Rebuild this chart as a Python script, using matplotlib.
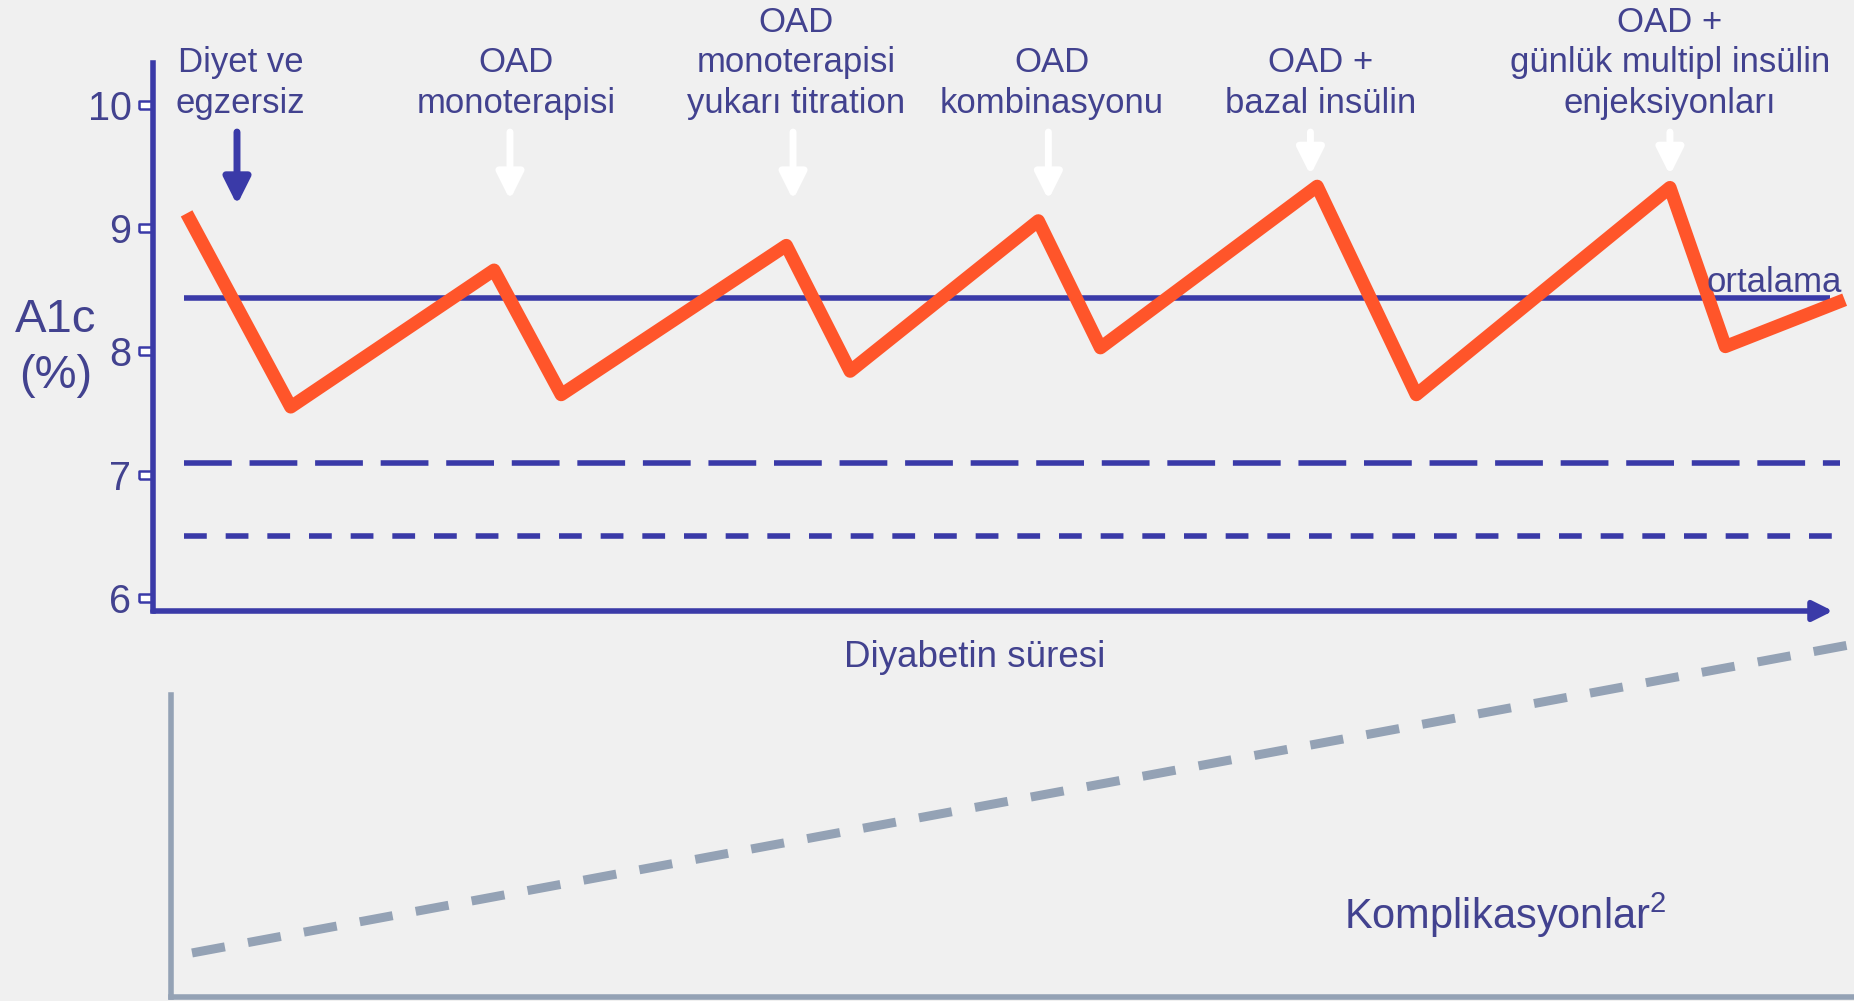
import matplotlib
matplotlib.use('Agg')
import matplotlib.pyplot as plt
from matplotlib.transforms import blended_transform_factory

plt.rcParams['font.family'] = ['Liberation Sans', 'DejaVu Sans']
plt.rcParams['mathtext.fontset'] = 'custom'
plt.rcParams['mathtext.rm'] = 'Liberation Sans'
plt.rcParams['mathtext.it'] = 'Liberation Sans'

# Colours.
BG = '#f0f0f0'
BLUE = '#3a3aa8'
TEXT = '#42428f'
ORANGE = '#ff552a'
GREY = '#94a2b5'

# A1c curve (x = time in arbitrary units, 0..100 along the arrow).
a1c_x = [2.0, 8.2, 20.3, 24.3, 37.7, 41.5, 52.7, 56.4, 69.3, 75.2, 90.3, 93.6, 100.7]
a1c_y = [9.12, 7.55, 8.66, 7.65, 8.86, 7.84, 9.06, 8.03, 9.34, 7.65, 9.33, 8.04, 8.42]

# Reference lines.
mean_level = 8.43
target_7 = 7.095
target_65 = 6.50
line_start = 1.85
mean_end = 99.8
dash_end = 100.4

yticks = [6, 7, 8, 9, 10]

# Therapy steps (labels above the curve).
step_labels = ['Diyet ve\negzersiz', 'OAD\nmonoterapisi',
               'OAD\nmonoterapisi\nyukarı titration', 'OAD\nkombinasyonu',
               'OAD +\nbazal insülin',
               'OAD +\ngünlük multipl insülin\nenjeksiyonları']
step_label_x = [5.2, 21.6, 38.3, 53.5, 69.5, 90.3]
step_arrow_x = [5.0, 21.25, 38.1, 53.3, 68.9, 90.3]
step_arrow_tip = [9.19, 9.23, 9.23, 9.23, 9.43, 9.43]
arrow_top = 9.78
label_base = 9.88

# Complications (bottom panel).
comp_x = [1.25, 100]
comp_y = [0.146, 1.17]

W, H = 1854, 1001
fig = plt.figure(figsize=(W / 100, H / 100), dpi=100, facecolor=BG)

# Main A1c axes.
ax = fig.add_axes([153 / W, (H - 611) / H, (1848 - 153) / W, 548 / H])
ax.set_facecolor('none')
ax.set_xlim(0, 100.9)
ax.set_ylim(5.895, 10.34)
for s in ['top', 'right', 'bottom']:
    ax.spines[s].set_visible(False)
ax.spines['left'].set_color(BLUE)
ax.spines['left'].set_linewidth(4)
ax.set_xticks([])
ax.set_yticks(yticks)
ax.set_yticklabels([str(t) for t in yticks], fontsize=28.5, color=TEXT)
ax.tick_params(axis='y', length=0, pad=15.5)

# Hollow tick marks.
tr = blended_transform_factory(ax.transAxes, ax.transData)
tick_box = [(-1, -0.6), (1, -0.6), (1, 0.6), (-1, 0.6), (-1, -0.6)]
ax.plot([-8 / 1695] * len(yticks), yticks, linestyle='none', marker=tick_box,
        markersize=9, markerfacecolor='white', markeredgecolor=BLUE,
        markeredgewidth=1.8, transform=tr, clip_on=False, zorder=5)

# X axis arrow.
ax.annotate('', xy=(100, 0), xytext=(0, 0), xycoords=('data', 'axes fraction'),
            textcoords=('data', 'axes fraction'),
            arrowprops=dict(arrowstyle='-|>,head_length=0.6,head_width=0.3',
                            mutation_scale=20, lw=4, color=BLUE,
                            shrinkA=0, shrinkB=0), annotation_clip=False)

# Reference lines.
ax.plot([line_start, mean_end], [mean_level] * 2, color=BLUE, lw=4,
        solid_capstyle='butt', zorder=2)
ax.plot([line_start, dash_end], [target_7] * 2, color=BLUE, lw=4,
        dashes=(8.6, 3.2), dash_capstyle='butt', clip_on=False)
ax.plot([line_start, dash_end], [target_65] * 2, color=BLUE, lw=4,
        dashes=(4.1, 3.4), dash_capstyle='butt', clip_on=False)

# A1c curve.
ax.plot(a1c_x, a1c_y, color=ORANGE, lw=9.5, solid_joinstyle='round',
        solid_capstyle='butt', clip_on=False, zorder=3)

ax.text(96.5, 8.48, 'ortalama', fontsize=25, color=TEXT, ha='center',
        va='baseline', zorder=4)

# Therapy step labels and arrows.
for i, (lbl, lx) in enumerate(zip(step_labels, step_label_x)):
    ax.text(lx, label_base, lbl, fontsize=25, color=TEXT, ha='center',
            va='bottom', linespacing=1.29, multialignment='center')
    col = BLUE if i == 0 else 'white'
    ax.annotate('', xy=(step_arrow_x[i], step_arrow_tip[i]),
                xytext=(step_arrow_x[i], arrow_top),
                arrowprops=dict(arrowstyle='-|>,head_length=0.8,head_width=0.4',
                                mutation_scale=20, lw=5, color=col,
                                shrinkA=0, shrinkB=0), annotation_clip=False)

# Axis labels.
fig.text(56 / W, 1 - 388 / H, 'A1c\n(%)', fontsize=34, color=TEXT,
         ha='center', va='baseline', linespacing=1.34)
fig.text(975 / W, 1 - 667 / H, 'Diyabetin süresi', fontsize=26.5, color=TEXT,
         ha='center', va='baseline')

# Complications panel.
ax2 = fig.add_axes([171 / W, (H - 997) / H, (W - 171) / W, 362 / H])
ax2.set_facecolor('none')
ax2.set_xlim(0, 100)
ax2.set_ylim(0, 1.2)
for s in ['top', 'right']:
    ax2.spines[s].set_visible(False)
for s in ['left', 'bottom']:
    ax2.spines[s].set_color(GREY)
    ax2.spines[s].set_linewidth(4)
ax2.spines['left'].set_bounds(0, 1.0)
ax2.set_xticks([])
ax2.set_yticks([])
ax2.plot(comp_x, comp_y, color=GREY, lw=6.5, dashes=(3.7, 2.6),
         dash_capstyle='butt', clip_on=False)
ax2.text(69.7, 0.225, r'Komplikasyonlar$^{2}$', fontsize=30, color=TEXT,
         ha='left', va='baseline')

fig.savefig('out.png', dpi=100, facecolor=BG)
